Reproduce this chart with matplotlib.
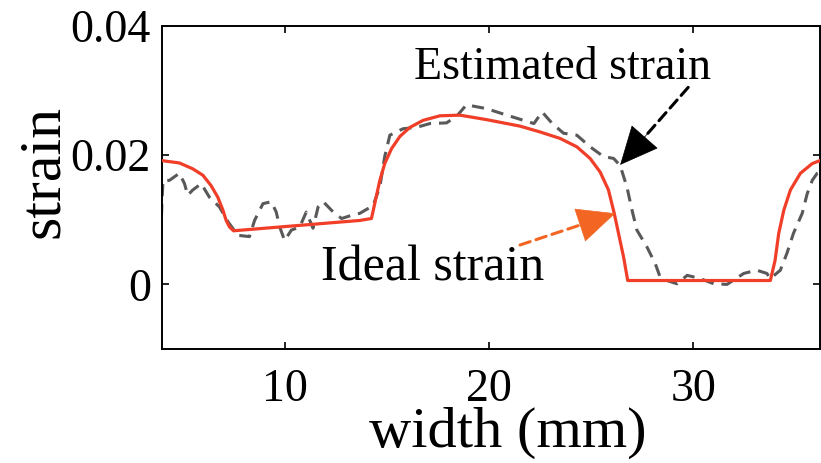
import matplotlib
matplotlib.use("Agg")
import matplotlib.pyplot as plt

# Ideal strain (solid red)
ideal_x = [3.9, 4.85, 5.5, 6.0, 6.4, 6.73, 6.98, 7.14, 7.3, 7.5, 13.68, 14.25, 14.41, 14.66,
           14.9, 15.23, 15.64, 16.13, 16.78, 17.6, 18.58, 19.89, 21.52, 22.5, 23.48, 24.3,
           24.95, 25.44, 25.85, 26.13, 26.34, 26.59, 26.79, 33.77, 34.0, 34.18, 34.43, 34.75,
           35.24, 35.82, 36.3]
ideal_y = [0.0192, 0.0188, 0.0179, 0.0169, 0.0153, 0.0135, 0.0115, 0.0099, 0.0089, 0.0083,
           0.0099, 0.0102, 0.0125, 0.0161, 0.0187, 0.0210, 0.0229, 0.0243, 0.0254, 0.0261,
           0.0262, 0.0255, 0.0245, 0.0236, 0.0226, 0.0213, 0.0195, 0.0174, 0.0146, 0.0110,
           0.0079, 0.0042, 0.0006, 0.0006, 0.0037, 0.0079, 0.0115, 0.0146, 0.0172, 0.0187,
           0.0193]

# Estimated strain (dashed gray)
est_x = [3.94, 4.0, 4.05, 4.36, 4.85, 5.1, 5.26, 5.5, 5.92, 6.32, 6.81, 7.23, 7.71, 8.28,
         8.53, 8.94, 9.35, 9.59, 9.76, 10.0, 10.33, 10.74, 11.06, 11.39, 11.64, 11.89, 12.38,
         12.79, 13.28, 13.68, 14.33, 14.66, 14.9, 15.15, 15.8, 16.45, 17.11, 17.92, 18.41,
         18.9, 19.89, 20.87, 21.69, 22.2, 22.6, 23.1, 23.65, 24.3, 24.95, 25.6, 26.1, 26.42,
         26.75, 27.0, 27.24, 27.73, 28.14, 28.38, 28.71, 29.2, 29.7, 30.34, 31.0, 31.65,
         32.47, 33.1, 33.6, 33.77, 34.26, 34.58, 34.9, 35.33, 35.57, 35.82, 36.06, 36.3]
est_y = [0.0074, 0.0130, 0.0161, 0.0161, 0.0172, 0.0156, 0.0138, 0.0146, 0.0156, 0.0135,
         0.0120, 0.0097, 0.0076, 0.0074, 0.0099, 0.0125, 0.0128, 0.0112, 0.0089, 0.0068,
         0.0084, 0.0089, 0.0112, 0.0087, 0.0120, 0.0128, 0.0112, 0.0102, 0.0107, 0.0110,
         0.0122, 0.0151, 0.0198, 0.0231, 0.0241, 0.0243, 0.0249, 0.0250, 0.0260, 0.0278,
         0.0272, 0.0262, 0.0254, 0.0249, 0.0267, 0.0249, 0.0234, 0.0231, 0.0213, 0.0198,
         0.0195, 0.0184, 0.0151, 0.0115, 0.0084, 0.0058, 0.0032, 0.0011, 0.0006, 0.0001,
         0.0014, 0.0009, 0.0001, 0.0000, 0.0017, 0.0022, 0.0017, 0.0009, 0.0022, 0.0048,
         0.0079, 0.0110, 0.0140, 0.0161, 0.0172, 0.0175]

x_ticks = [10, 20, 30]
y_ticks = [0, 0.02, 0.04]
y_tick_labels = ["0", "0.02", "0.04"]

# annotation anchors (data coords)
est_label_pos = (23.6, 0.0335)
est_tail = (29.75, 0.0305)
est_tip = (26.42, 0.0185)
ideal_label_pos = (17.25, 0.0025)
ideal_tail = (21.52, 0.0061)
ideal_tip = (26.18, 0.0110)

red = "#F03E28"
orange = "#F26522"

plt.rcParams["font.family"] = ["Liberation Serif", "DejaVu Serif"]

fig = plt.figure(figsize=(8.21, 4.63), dpi=100)
ax = fig.add_axes([162 / 821, 1 - 349 / 463, (820 - 162) / 821, (349 - 26) / 463])

ax.plot(est_x, est_y, color="#595959", lw=2.2, ls=(0, (4, 2.6)), zorder=2)
ax.plot(ideal_x, ideal_y, color=red, lw=2.3, zorder=3)

ax.set_xlim(4, 36.2)
ax.set_ylim(-0.01, 0.04)
ax.set_xticks(x_ticks)
ax.set_yticks(y_ticks)
ax.set_yticklabels(y_tick_labels)
ax.tick_params(direction="in", length=5, width=1.2, labelsize=33, top=True, right=True, pad=8)
ax.tick_params(axis="x", pad=14)
for s in ax.spines.values():
    s.set_linewidth(1.4)

ax.set_xlabel("width (mm)", fontsize=42)
ax.xaxis.set_label_coords(0.526, -0.178)
ax.set_ylabel("strain", fontsize=43)
ax.yaxis.set_label_coords(-0.138, 0.551)


def dashed_arrow(tail, tip, color):
    ax.annotate("", xy=tip, xytext=tail,
                arrowprops=dict(arrowstyle="-", color=color, lw=2.2, ls=(0, (3.5, 2)),
                                shrinkA=0, shrinkB=6), zorder=4)
    back = (tip[0] + 0.45 * (tail[0] - tip[0]), tip[1] + 0.45 * (tail[1] - tip[1]))
    ax.annotate("", xy=tip, xytext=back,
                arrowprops=dict(arrowstyle="-|>,head_length=1.3,head_width=0.6", color=color,
                                lw=0.5, mutation_scale=20, shrinkA=0, shrinkB=0,
                                linestyle="-"), zorder=4)


ax.text(*est_label_pos, "Estimated strain", fontsize=33, ha="center", va="center", zorder=5)
dashed_arrow(est_tail, est_tip, "black")

ax.text(*ideal_label_pos, "Ideal strain", fontsize=36, ha="center", va="center", zorder=5)
dashed_arrow(ideal_tail, ideal_tip, orange)

fig.savefig("out.png", dpi=100)
